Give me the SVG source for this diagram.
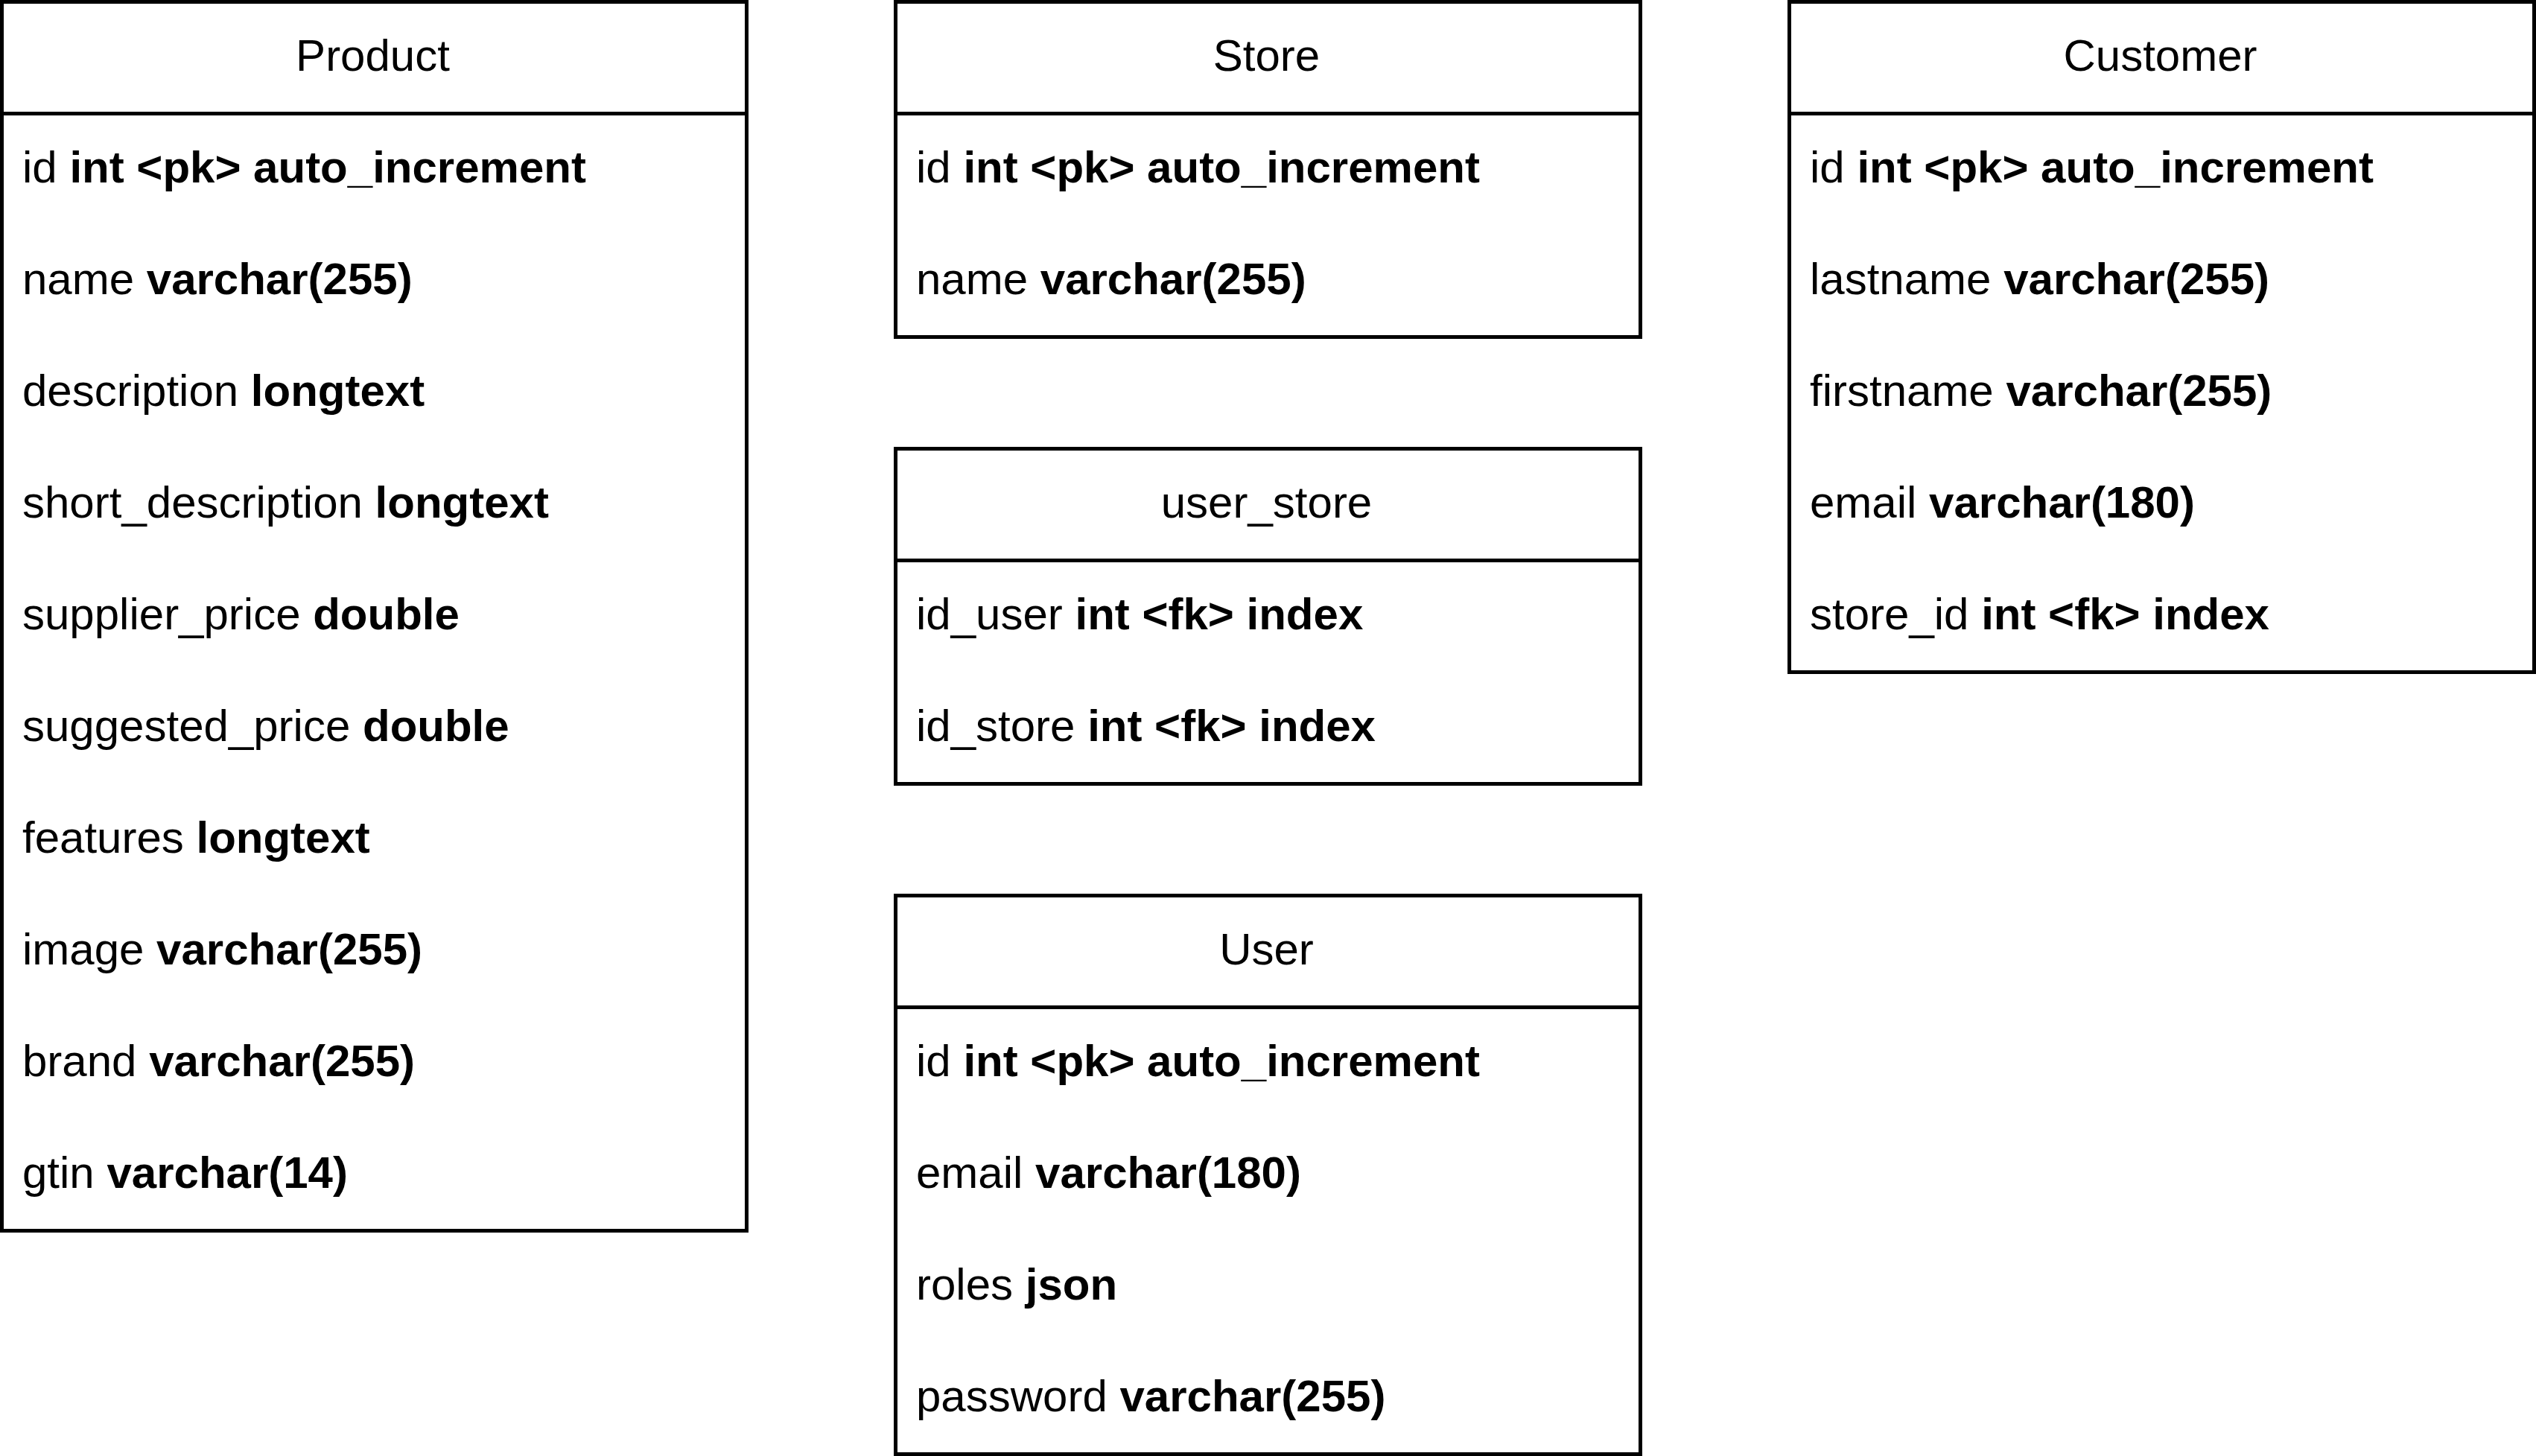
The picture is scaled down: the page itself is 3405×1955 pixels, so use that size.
<svg xmlns="http://www.w3.org/2000/svg" width="3405" height="1955" viewBox="0 0 3405 1955">
<style>
.box{fill:#ffffff;stroke:#000000;stroke-width:5}
.sep{stroke:#000000;stroke-width:5}
text{font-family:"Liberation Sans",Arial,Helvetica,sans-serif;font-size:60px;fill:#000000}
.title{text-anchor:middle}
.b{font-weight:bold}
</style>
<rect x="0" y="0" width="3405" height="1955" fill="#ffffff"/>
<g id="connectors"></g>
<g id="product">
<rect class="box" x="2.5" y="2.5" width="1000" height="1650"/>
<line class="sep" x1="2.5" y1="152.5" x2="1002.5" y2="152.5"/>
<text class="title" x="500.5" y="95">Product</text>
<text x="30" y="245">id <tspan class="b">int &lt;pk&gt; auto_increment</tspan></text>
<text x="30" y="395">name <tspan class="b">varchar(255)</tspan></text>
<text x="30" y="545">description <tspan class="b">longtext</tspan></text>
<text x="30" y="695">short_description <tspan class="b">longtext</tspan></text>
<text x="30" y="845">supplier_price <tspan class="b">double</tspan></text>
<text x="30" y="995">suggested_price <tspan class="b">double</tspan></text>
<text x="30" y="1145">features <tspan class="b">longtext</tspan></text>
<text x="30" y="1295">image <tspan class="b">varchar(255)</tspan></text>
<text x="30" y="1445">brand <tspan class="b">varchar(255)</tspan></text>
<text x="30" y="1595">gtin <tspan class="b">varchar(14)</tspan></text>
</g>
<g id="store">
<rect class="box" x="1202.5" y="2.5" width="1000" height="450"/>
<line class="sep" x1="1202.5" y1="152.5" x2="2202.5" y2="152.5"/>
<text class="title" x="1700.5" y="95">Store</text>
<text x="1230" y="245">id <tspan class="b">int &lt;pk&gt; auto_increment</tspan></text>
<text x="1230" y="395">name <tspan class="b">varchar(255)</tspan></text>
</g>
<g id="user_store">
<rect class="box" x="1202.5" y="602.5" width="1000" height="450"/>
<line class="sep" x1="1202.5" y1="752.5" x2="2202.5" y2="752.5"/>
<text class="title" x="1700.5" y="695">user_store</text>
<text x="1230" y="845">id_user <tspan class="b">int &lt;fk&gt; index</tspan></text>
<text x="1230" y="995">id_store <tspan class="b">int &lt;fk&gt; index</tspan></text>
</g>
<g id="user">
<rect class="box" x="1202.5" y="1202.5" width="1000" height="750"/>
<line class="sep" x1="1202.5" y1="1352.5" x2="2202.5" y2="1352.5"/>
<text class="title" x="1700.5" y="1295">User</text>
<text x="1230" y="1445">id <tspan class="b">int &lt;pk&gt; auto_increment</tspan></text>
<text x="1230" y="1595">email <tspan class="b">varchar(180)</tspan></text>
<text x="1230" y="1745">roles <tspan class="b">json</tspan></text>
<text x="1230" y="1895">password <tspan class="b">varchar(255)</tspan></text>
</g>
<g id="customer">
<rect class="box" x="2402.5" y="2.5" width="1000" height="900"/>
<line class="sep" x1="2402.5" y1="152.5" x2="3402.5" y2="152.5"/>
<text class="title" x="2900.5" y="95">Customer</text>
<text x="2430" y="245">id <tspan class="b">int &lt;pk&gt; auto_increment</tspan></text>
<text x="2430" y="395">lastname <tspan class="b">varchar(255)</tspan></text>
<text x="2430" y="545">firstname <tspan class="b">varchar(255)</tspan></text>
<text x="2430" y="695">email <tspan class="b">varchar(180)</tspan></text>
<text x="2430" y="845">store_id <tspan class="b">int &lt;fk&gt; index</tspan></text>
</g>
</svg>
